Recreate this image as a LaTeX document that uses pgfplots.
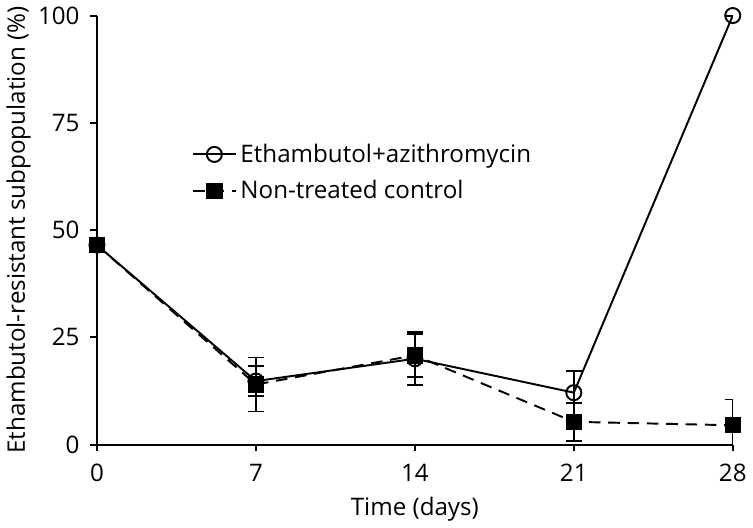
\documentclass[border=0pt]{standalone}
\usepackage{pgfplots}
\pgfplotsset{compat=1.18}
\usepackage{fontspec}
\setmainfont{Open Sans}
\begin{document}
\begin{tikzpicture}
\begin{axis}[
    scale only axis,
    width=329pt, height=222pt,
    xmin=0, xmax=28, ymin=0, ymax=100,
    axis lines=left,
    axis line style={line width=1pt, -},
    xtick={0,7,14,21,28},
    ytick={0,25,50,75,100},
    tick style={line width=1pt, black},
    tick align=outside,
    major tick length=3.5pt,
    tick label style={font=\fontsize{12.5}{14}\selectfont},
    xticklabel style={yshift=-3pt},
    yticklabel style={xshift=-2pt},
    /pgf/number format/assume math mode=true,
    xlabel={Time (days)},
    ylabel={Ethambutol-resistant subpopulation (\%)},
    label style={font=\fontsize{12.5}{14}\selectfont},
    xlabel style={yshift=-1pt},
    ylabel style={yshift=-3pt},
    legend style={draw=none, fill=none, at={(0.14,0.72)}, anchor=north west,
      font=\fontsize{12.5}{14}\selectfont, row sep=4pt},
    legend cell align=left,
    legend image code/.code={\draw[mark repeat=2,mark phase=2]
      plot coordinates {(0pt,0pt) (11pt,0pt) (22pt,0pt)};},
    every axis plot/.append style={line width=1pt, black},
    error bars/y dir=both,
    error bars/y explicit,
    error bars/error bar style={line width=1pt, black, solid},
    error bars/error mark options={rotate=90, mark size=4.2pt, line width=1pt, black, solid},
]
\addplot[mark=o, mark size=3.9pt, mark options={solid, fill=white, line width=1pt}]
  coordinates {
    (0,46.5) +- (0,0)
    (7,14.8) +- (0,3.5)
    (14,20.0) +- (0,6.2)
    (21,12.1) +- (0,5.1)
    (28,100) +- (0,0)
  };
\addlegendentry{Ethambutol+azithromycin}
\addplot[dashed, dash pattern=on 6pt off 4pt, mark=square*, mark size=3.75pt,
  mark options={solid, fill=black}]
  coordinates {
    (0,46.5) +- (0,0)
    (7,14.0) +- (0,6.3)
    (14,20.8) +- (0,5.0)
    (21,5.3) +- (0,4.4)
    (28,4.5) +- (0,6.0)
  };
\addlegendentry{Non-treated control}
\end{axis}
\end{tikzpicture}
\end{document}
